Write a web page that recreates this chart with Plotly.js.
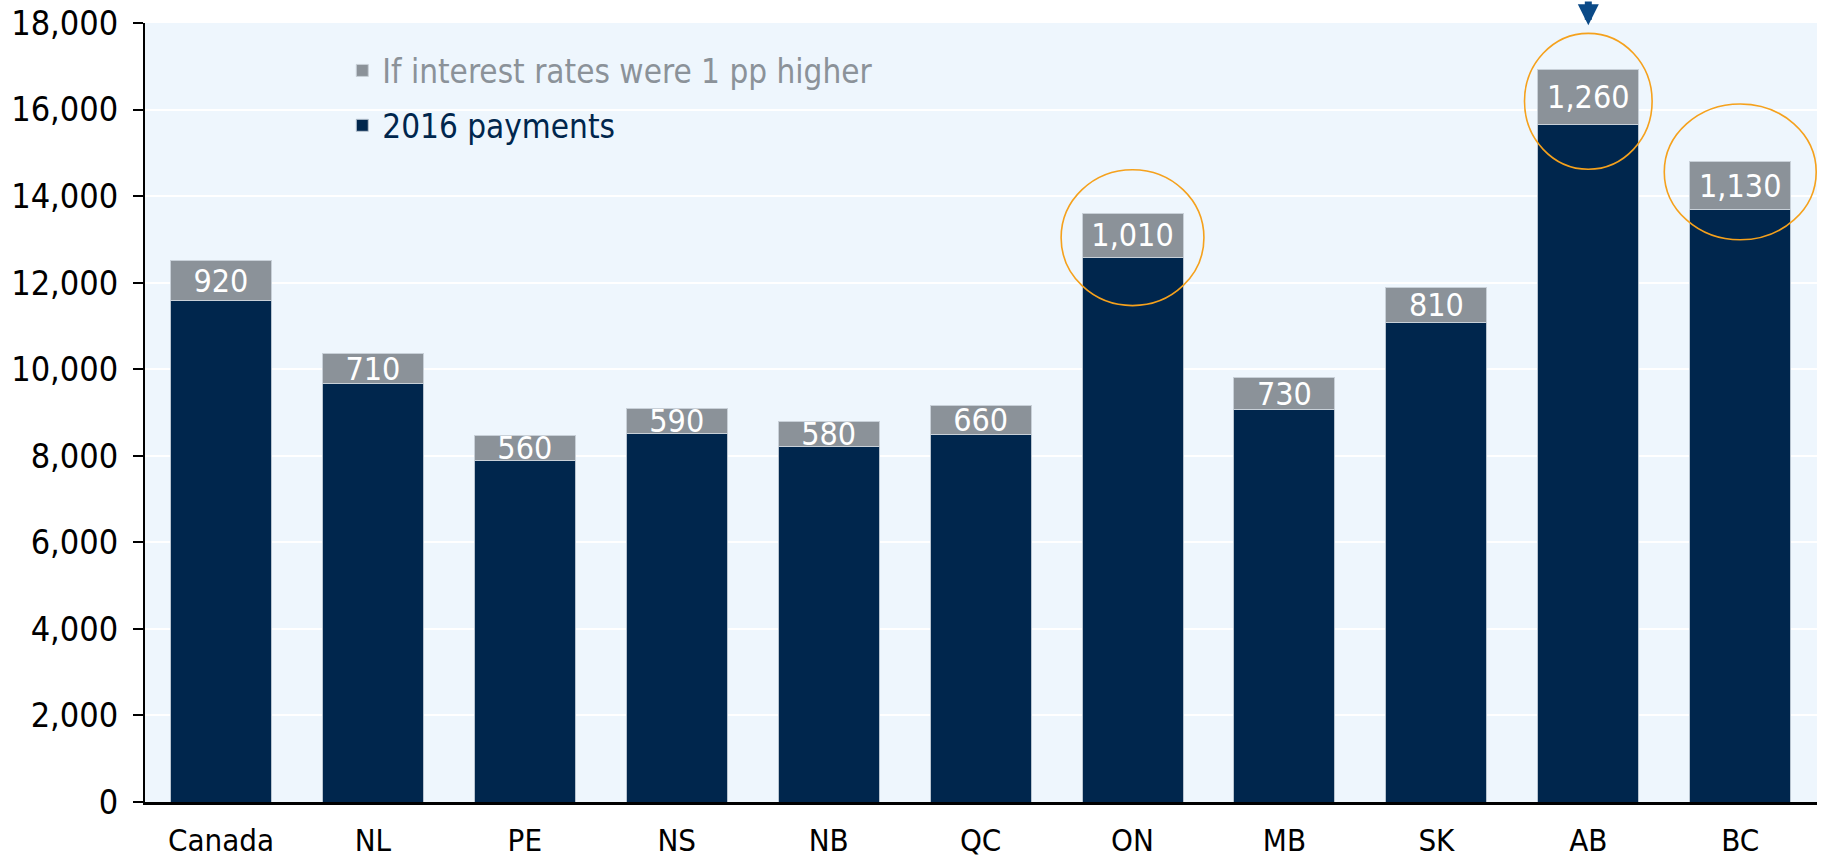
<!DOCTYPE html>
<html>
<head>
<meta charset="utf-8">
<script src="https://cdn.plot.ly/plotly-3.0.1.min.js"></script>
<style>
    html, body { margin: 0; padding: 0; background: #ffffff; }
    #chart { width: 1826px; height: 863px; }
</style>
</head>
<body>
<div id="chart"></div>
<script>
const chartDiv = document.getElementById("chart")

const provinces = ["Canada", "NL", "PE", "NS", "NB", "QC", "ON", "MB", "SK", "AB", "BC"]
const payments2016 = [11590, 9660, 7900, 8510, 8220, 8500, 12590, 9070, 11080, 15660, 13680]
const extraIfHigher = [920, 710, 560, 590, 580, 660, 1010, 730, 810, 1260, 1130]
const extraLabels = extraIfHigher.map(v => v.toLocaleString("en-US"))
const yTicks = [0, 2000, 4000, 6000, 8000, 10000, 12000, 14000, 16000, 18000]

// highlighted provinces get an orange ring (centre value, half width in categories)
const circled = ["ON", "AB", "BC"]
const circleCentres = [13040, 16190, 14560]
const circleHalfWidths = [0.47, 0.42, 0.5]

const fontFamily = "DejaVu Sans Condensed, DejaVu Sans, sans-serif"

let tracePayments = {
    x: provinces,
    y: payments2016,
    type: "bar",
    name: "<span style='color:#00264d'>2016 payments</span>",
    legendgroup: "pay",
    legendrank: 2,
    marker: { color: "#00264d", line: { color: "#b8c4d0", width: 1 } },
    hoverinfo: "x+y"
}
let traceHigher = {
    x: provinces,
    y: extraIfHigher,
    type: "bar",
    name: "<span style='color:#8b9299'>If interest rates were 1 pp higher</span>",
    legendgroup: "higher",
    legendrank: 1,
    marker: { color: "#8b9299", line: { color: "#c8d0d8", width: 1 } },
    text: extraLabels,
    textposition: "inside",
    insidetextanchor: "middle",
    constraintext: "none",
    textfont: { color: "#ffffff", size: 32, family: fontFamily },
    hoverinfo: "x+y"
}

let shapes = circled.map((p, k) => {
    let i = provinces.indexOf(p)
    return {
        type: "circle",
        xref: "x",
        yref: "y",
        x0: i - circleHalfWidths[k],
        x1: i + circleHalfWidths[k],
        y0: circleCentres[k] - 1570,
        y1: circleCentres[k] + 1570,
        line: { color: "#f5a11c", width: 1.6 }
    }
})

let layout = {
    width: 1826,
    height: 863,
    margin: { l: 145, r: 9, t: 23, b: 61 },
    paper_bgcolor: "#ffffff",
    plot_bgcolor: "#eef6fd",
    font: { family: fontFamily, size: 31, color: "#000000" },
    barmode: "stack",
    bargap: 0.335,
    showlegend: true,
    legend: {
        x: 0.118,
        y: 0.975,
        xanchor: "left",
        yanchor: "top",
        traceorder: "grouped",
        tracegroupgap: 9,
        bgcolor: "rgba(0,0,0,0)",
        font: { size: 33, family: fontFamily },
        itemclick: false
    },
    xaxis: {
        type: "category",
        showline: true,
        linecolor: "#000000",
        linewidth: 2.5,
        ticks: "",
        ticklabelstandoff: 9,
        tickfont: { size: 31 },
        showgrid: false
    },
    yaxis: {
        range: [0, 18000],
        tickvals: yTicks,
        tickformat: ",d",
        showline: true,
        linecolor: "#000000",
        linewidth: 2,
        ticks: "outside",
        ticklen: 10,
        tickwidth: 2,
        tickcolor: "#000000",
        ticklabelstandoff: 8,
        tickfont: { size: 34 },
        gridcolor: "#ffffff",
        gridwidth: 2,
        zeroline: false
    },
    shapes: shapes,
    annotations: [{
        x: "AB",
        y: 17950,
        xref: "x",
        yref: "y",
        text: "",
        showarrow: true,
        arrowhead: 2,
        arrowsize: 0.6,
        arrowwidth: 7,
        arrowcolor: "#0b4a87",
        ax: 0,
        ay: -26
    }]
}
let config = {
    responsive: false,
    displayModeBar: false
}

Plotly.newPlot(chartDiv, [tracePayments, traceHigher], layout, config)
</script>
</body>
</html>
